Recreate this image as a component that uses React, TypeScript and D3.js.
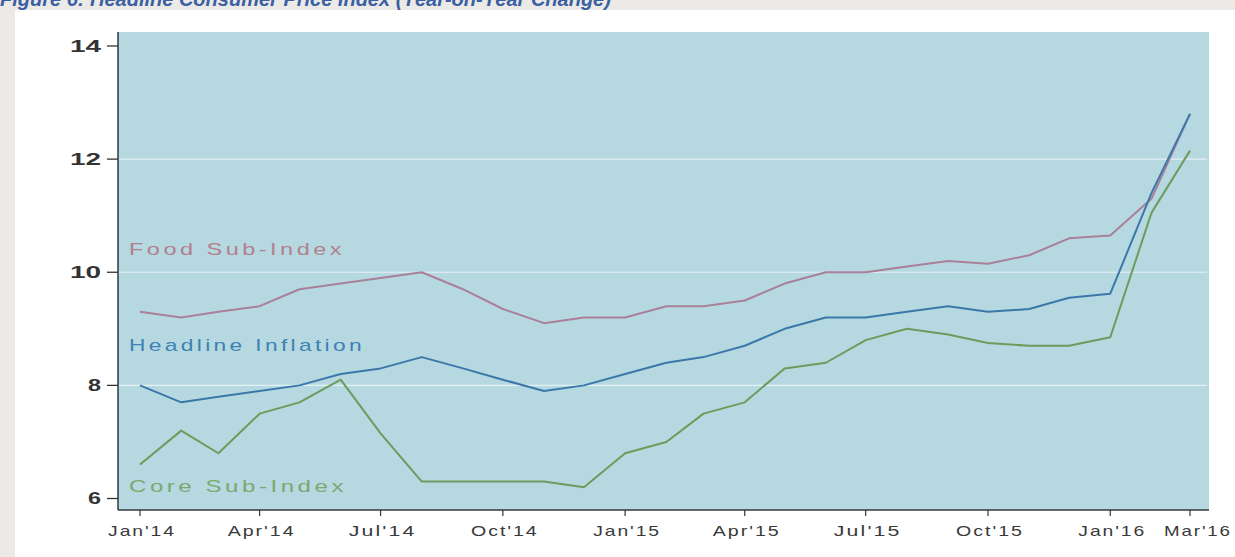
import React from "react";
import * as d3 from "d3";

const months: string[] = [
  "2014-01","2014-02","2014-03","2014-04","2014-05","2014-06","2014-07","2014-08","2014-09","2014-10","2014-11","2014-12",
  "2015-01","2015-02","2015-03","2015-04","2015-05","2015-06","2015-07","2015-08","2015-09","2015-10","2015-11","2015-12",
  "2016-01","2016-02","2016-03",
];
const foodValues: number[] = [
  9.3, 9.2, 9.3, 9.4, 9.7, 9.8, 9.9, 10.0, 9.7, 9.35, 9.1, 9.2,
  9.2, 9.4, 9.4, 9.5, 9.8, 10.0, 10.0, 10.1, 10.2, 10.15, 10.3, 10.6,
  10.65, 11.3, 12.8,
];
const headlineValues: number[] = [
  8.0, 7.7, 7.8, 7.9, 8.0, 8.2, 8.3, 8.5, 8.3, 8.1, 7.9, 8.0,
  8.2, 8.4, 8.5, 8.7, 9.0, 9.2, 9.2, 9.3, 9.4, 9.3, 9.35, 9.55,
  9.62, 11.4, 12.8,
];
const coreValues: number[] = [
  6.6, 7.2, 6.8, 7.5, 7.7, 8.1, 7.15, 6.3, 6.3, 6.3, 6.3, 6.2,
  6.8, 7.0, 7.5, 7.7, 8.3, 8.4, 8.8, 9.0, 8.9, 8.75, 8.7, 8.7,
  8.85, 11.05, 12.15,
];
const xTickDates: string[] = ["2014-01","2014-04","2014-07","2014-10","2015-01","2015-04","2015-07","2015-10","2016-01","2016-03"];
const xTickLabels: string[] = ["Jan'14","Apr'14","Jul'14","Oct'14","Jan'15","Apr'15","Jul'15","Oct'15","Jan'16","Mar'16"];
const yTicks: number[] = [6, 8, 10, 12, 14];
const gridValues: number[] = [8, 10, 12];
const titleText = "Figure 6: Headline Consumer Price Index (Year-on-Year Change)";

const W = 1235;
const H = 557;
const plot = { left: 118, right: 1209, top: 32, bottom: 510 };

const parse = d3.timeParse("%Y-%m");

export default function App() {
  const x = d3
    .scaleTime()
    .domain([parse("2014-01") as Date, parse("2016-03") as Date])
    .range([140, 1190]);
  const y = d3.scaleLinear().domain([6, 14]).range([498.5, 46]);

  const dates = months.map((m) => parse(m) as Date);
  const line = d3
    .line<number>()
    .x((_, i) => x(dates[i]))
    .y((v) => y(v));

  const series = [
    { name: "Food Sub-Index", values: foodValues, color: "#a9809a", label: "#b3808f", ly: 10.305, len: 216 },
    { name: "Headline Inflation", values: headlineValues, color: "#3b78aa", label: "#3d82b4", ly: 8.61, len: 236 },
    { name: "Core Sub-Index", values: coreValues, color: "#6c9c5c", label: "#7aa96f", ly: 6.115, len: 218 },
  ];

  const font = "'Liberation Sans', Arial, sans-serif";

  return (
    <svg
      width={W}
      height={H}
      style={{ position: "absolute", left: 0, top: 0, display: "block" }}
      fontFamily={font}
    >
      <rect x={0} y={0} width={W} height={H} fill="#ebeae6" />
      <rect x={15} y={10} width={W - 15} height={H - 10} fill="#ffffff" />
      <text x={0} y={6} fontSize={20} fontWeight="bold" fontStyle="italic" fill="#3b5fa3">
        {titleText}
      </text>

      <rect
        x={plot.left}
        y={plot.top}
        width={plot.right - plot.left}
        height={plot.bottom - plot.top}
        fill="#b6d8e0"
      />
      {gridValues.map((g) => (
        <line
          key={g}
          x1={plot.left + 1}
          x2={plot.right - 2}
          y1={y(g)}
          y2={y(g)}
          stroke="#e4f1f3"
          strokeWidth={1.2}
        />
      ))}

      {series.map((s) => (
        <path
          key={s.name}
          d={line(s.values) || ""}
          fill="none"
          stroke={s.color}
          strokeWidth={2}
          strokeLinejoin="round"
        />
      ))}

      {series.map((s) => (
        <text
          key={s.name + "l"}
          x={129}
          y={y(s.ly)}
          fontSize={17}
          fill={s.label}
          letterSpacing={2.5}
          textLength={s.len}
          lengthAdjust="spacingAndGlyphs"
        >
          {s.name}
        </text>
      ))}

      <line x1={plot.left} x2={plot.left} y1={plot.top} y2={plot.bottom} stroke="#2f3a3c" strokeWidth={1.5} />
      <line x1={plot.left} x2={plot.right} y1={plot.bottom} y2={plot.bottom} stroke="#2f3a3c" strokeWidth={1.5} />

      {yTicks.map((t) => (
        <g key={t}>
          <line x1={107} x2={plot.left} y1={y(t)} y2={y(t)} stroke="#333" strokeWidth={1.3} />
          <text
            x={101}
            y={y(t)}
            dy="0.36em"
            textAnchor="end"
            fontSize={16}
            fontWeight="bold"
            fill="#333"
            textLength={String(t).length === 1 ? 13 : 31}
            lengthAdjust="spacingAndGlyphs"
          >
            {t}
          </text>
        </g>
      ))}

      {xTickDates.map((d, i) => {
        const px = x(parse(d) as Date);
        return (
          <g key={d}>
            <line x1={px} x2={px} y1={plot.bottom} y2={plot.bottom + 6} stroke="#333" strokeWidth={1.2} />
            <text
              x={px + (i === xTickDates.length - 1 ? 8 : 2)}
              y={536}
              textAnchor="middle"
              fontSize={15}
              fill="#3a3a3a"
              letterSpacing={1.5}
              textLength={xTickLabels[i].length * 11.3}
              lengthAdjust="spacingAndGlyphs"
            >
              {xTickLabels[i]}
            </text>
          </g>
        );
      })}
    </svg>
  );
}
